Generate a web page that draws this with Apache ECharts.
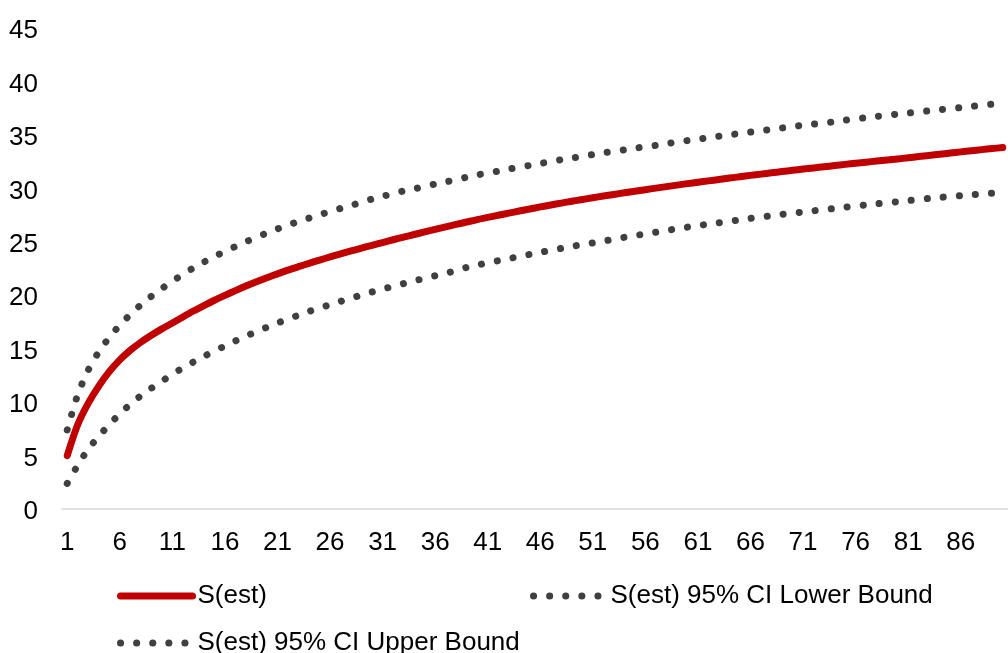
<!DOCTYPE html>
<html>
<head>
<meta charset="utf-8">
<style>
  html, body { margin: 0; padding: 0; background: #ffffff; }
  #chart { width: 1008px; height: 653px; }
</style>
<script src="https://cdn.jsdelivr.net/npm/echarts@6/dist/echarts.min.js"></script>
</head>
<body>
<div id="chart"></div>
<script>
// Sample counts along the x axis
const categories = [
  '1','2','3','4','5','6','7','8','9','10',
  '11','12','13','14','15','16','17','18','19','20',
  '21','22','23','24','25','26','27','28','29','30',
  '31','32','33','34','35','36','37','38','39','40',
  '41','42','43','44','45','46','47','48','49','50',
  '51','52','53','54','55','56','57','58','59','60',
  '61','62','63','64','65','66','67','68','69','70',
  '71','72','73','74','75','76','77','78','79','80',
  '81','82','83','84','85','86','87','88','89','90'
];

// Estimated richness S(est)
const sEst = [
  5.0, 7.9, 9.9, 11.5, 12.85, 13.95, 14.85, 15.6, 16.25, 16.85,
  17.4, 17.97, 18.52, 19.03, 19.53, 19.99, 20.43, 20.86, 21.26, 21.64,
  22.0, 22.35, 22.67, 22.98, 23.29, 23.58, 23.86, 24.14, 24.41, 24.67,
  24.93, 25.19, 25.44, 25.68, 25.92, 26.16, 26.39, 26.62, 26.85, 27.08,
  27.28, 27.48, 27.68, 27.88, 28.07, 28.26, 28.44, 28.62, 28.79, 28.96,
  29.12, 29.28, 29.43, 29.58, 29.72, 29.87, 30.02, 30.16, 30.3, 30.44,
  30.57, 30.7, 30.83, 30.96, 31.09, 31.21, 31.33, 31.45, 31.57, 31.69,
  31.8, 31.91, 32.02, 32.13, 32.24, 32.35, 32.45, 32.55, 32.65, 32.75,
  32.86, 32.97, 33.08, 33.19, 33.3, 33.41, 33.52, 33.62, 33.72, 33.82
];

// Lower 95% confidence bound
const sLower = [
  2.4, 4.1, 5.6, 6.8, 7.9, 8.9, 9.8, 10.6, 11.3, 11.95,
  12.6, 13.2, 13.75, 14.28, 14.78, 15.25, 15.72, 16.17, 16.6, 17.0,
  17.4, 17.77, 18.13, 18.48, 18.8, 19.12, 19.43, 19.73, 20.02, 20.3,
  20.57, 20.83, 21.09, 21.34, 21.58, 21.82, 22.05, 22.3, 22.6, 22.82,
  23.03, 23.23, 23.42, 23.62, 23.82, 24.01, 24.2, 24.38, 24.56, 24.74,
  24.9, 25.06, 25.24, 25.42, 25.58, 25.73, 25.89, 26.05, 26.22, 26.37,
  26.51, 26.65, 26.78, 26.91, 27.06, 27.2, 27.32, 27.44, 27.57, 27.68,
  27.78, 27.9, 28.01, 28.12, 28.24, 28.35, 28.45, 28.55, 28.65, 28.75,
  28.85, 28.95, 29.06, 29.15, 29.23, 29.31, 29.39, 29.47, 29.55, 29.63
];

// Upper 95% confidence bound
const sUpper = [
  7.4, 10.7, 13.0, 14.7, 16.05, 17.2, 18.2, 19.1, 19.9, 20.62,
  21.3, 21.95, 22.55, 23.1, 23.62, 24.1, 24.56, 25.0, 25.42, 25.82,
  26.2, 26.56, 26.9, 27.22, 27.53, 27.83, 28.12, 28.4, 28.7, 29.0,
  29.25, 29.5, 29.75, 29.95, 30.2, 30.4, 30.6, 30.8, 31.05, 31.25,
  31.45, 31.6, 31.8, 31.97, 32.15, 32.33, 32.5, 32.68, 32.83, 32.98,
  33.16, 33.32, 33.46, 33.6, 33.75, 33.9, 34.02, 34.17, 34.34, 34.47,
  34.6, 34.74, 34.87, 35.0, 35.14, 35.26, 35.38, 35.51, 35.65, 35.78,
  35.9, 36.01, 36.11, 36.24, 36.37, 36.5, 36.61, 36.73, 36.84, 36.94,
  37.04, 37.15, 37.25, 37.35, 37.45, 37.55, 37.66, 37.77, 37.88, 37.98
];

const seriesNames = ['S(est)', 'S(est) 95% CI Lower Bound', 'S(est) 95% CI Upper Bound'];

const FONT = "'Liberation Sans', Arial, sans-serif";
const RED = '#C00000';
const DOT = '#404040';
const dotted = { color: DOT, width: 7, type: [0.1, 16], cap: 'round' };

// Shared legend look: a long line sample, no marker, plain black text
const legendBase = {
  orient: 'horizontal',
  padding: 0,
  itemWidth: 72,
  itemHeight: 14,
  itemStyle: { opacity: 0 },
  textStyle: { fontFamily: FONT, fontSize: 26, color: '#000000' },
  selectedMode: false
};

const chart = echarts.init(document.getElementById('chart'), null, { renderer: 'canvas' });

chart.setOption({
  animation: false,
  backgroundColor: '#ffffff',
  grid: { left: 62, right: 0, top: 28, bottom: 144, containLabel: false },
  xAxis: {
    type: 'category',
    data: categories,
    boundaryGap: true,
    axisLine: { show: true, lineStyle: { color: '#d9d9d9', width: 1.5 } },
    axisTick: { show: false },
    splitLine: { show: false },
    axisLabel: {
      interval: 4,
      margin: 21,
      fontFamily: FONT,
      fontSize: 26,
      color: '#000000'
    }
  },
  yAxis: {
    type: 'value',
    min: 0,
    max: 45,
    interval: 5,
    axisLine: { show: false },
    axisTick: { show: false },
    splitLine: { show: false },
    axisLabel: {
      margin: 24,
      verticalAlign: 'top',
      lineHeight: 6,
      fontFamily: FONT,
      fontSize: 26,
      color: '#000000'
    }
  },
  legend: [
    Object.assign({}, legendBase, {
      data: [seriesNames[0]], left: 117, top: 583,
      lineStyle: { width: 7, cap: 'round', opacity: 1 }
    }),
    Object.assign({}, legendBase, {
      data: [seriesNames[1]], left: 530, top: 583,
      lineStyle: { width: 7, cap: 'round', opacity: 1 }
    }),
    Object.assign({}, legendBase, {
      data: [seriesNames[2]], left: 117, top: 630,
      lineStyle: { width: 7, cap: 'round', opacity: 1 }
    })
  ],
  series: [
    {
      name: seriesNames[0],
      type: 'line',
      data: sEst,
      symbol: 'none',
      smooth: 0.3,
      itemStyle: { color: RED },
      lineStyle: { color: RED, width: 7, cap: 'round', join: 'round' },
      z: 3
    },
    {
      name: seriesNames[1],
      type: 'line',
      data: sLower,
      symbol: 'none',
      smooth: 0.3,
      itemStyle: { color: DOT },
      lineStyle: dotted,
      z: 2
    },
    {
      name: seriesNames[2],
      type: 'line',
      data: sUpper,
      symbol: 'none',
      smooth: 0.3,
      itemStyle: { color: DOT },
      lineStyle: dotted,
      z: 2
    }
  ]
});
</script>
</body>
</html>
